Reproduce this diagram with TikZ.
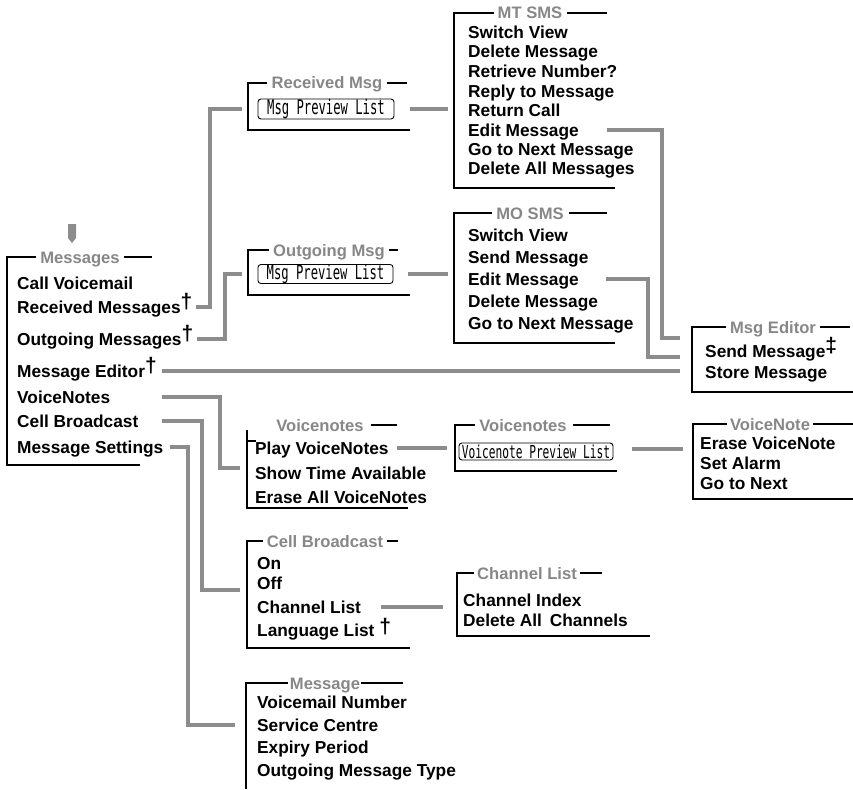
\documentclass[tikz,border=0pt]{standalone}
\usepackage{fontspec}
\setmainfont{Liberation Sans}
\newfontfamily\lcdfont{DejaVu Sans Mono}
\definecolor{linkgray}{RGB}{140,140,140}
\definecolor{titlegray}{RGB}{135,135,135}
\newcommand{\upmark}{\raisebox{5pt}{\fontsize{21}{21}\selectfont †}}
\newcommand{\upmarkk}{\raisebox{5pt}{\fontsize{21}{21}\selectfont ‡}}

\begin{document}
\begin{tikzpicture}[x=1pt, y=-1pt,
  menuitem/.style={anchor=west, inner sep=0pt, text height=12pt, text depth=0pt,
    font=\fontsize{17.3}{17.3}\selectfont\bfseries},
  menutitle/.style={menuitem, anchor=center, text=titlegray,
    font=\fontsize{16.6}{16.6}\selectfont\bfseries},
  boxline/.style={line width=1.2pt},
  link/.style={linkgray, line width=4pt},
  lcdbox/.style={draw, line width=0.9pt, rounded corners=3pt, inner sep=0pt}]
  \useasboundingbox (0,0) rectangle (853,789);

  % --- MESSAGES ---
  \fill[linkgray] (68,224) -- (76,224) -- (76,238) -- (72,243) -- (68,238) -- cycle;
  \node[menutitle] (tMsgs) at (80,257) {Messages};
  \node[menuitem] (mCall) at (17,283) {Call Voicemail};
  \node[menuitem] (mRecv) at (17,307) {Received Messages\upmark};
  \node[menuitem] (mOut)  at (17,339) {Outgoing Messages\upmark};
  \node[menuitem] (mEdit) at (17,371) {Message Editor\upmark};
  \node[menuitem] (mVN)   at (17,397) {VoiceNotes};
  \node[menuitem] (mCell) at (17,421) {Cell Broadcast};
  \node[menuitem] (mSet)  at (17,447) {Message Settings};
  \draw[boxline] ([xshift=-4pt]tMsgs.west) -| (7,465) -- (140,465);
  \draw[boxline] ([xshift=4pt]tMsgs.east) -- (tMsgs -| 152,0);

  % --- RECEIVED / OUTGOING ---
  \node[menutitle] (tRecv) at (327,83) {Received Msg};
  \node[lcdbox, minimum width=136pt, minimum height=20pt] (pRecv) at (326,109)
    {\lcdfont\fontsize{12.2}{12.2}\selectfont\scalebox{1}[1.65]{Msg Preview List}};
  \draw[boxline] ([xshift=-4pt]tRecv.west) -| (248,130) -- (410,130);
  \draw[boxline] ([xshift=4pt]tRecv.east) -- (tRecv -| 407,0);

  \node[menutitle] (tOut) at (329,250) {Outgoing Msg};
  \node[lcdbox, minimum width=135pt, minimum height=18pt] (pOut) at (325.5,274)
    {\lcdfont\fontsize{12.2}{12.2}\selectfont\scalebox{1}[1.6]{Msg Preview List}};
  \draw[boxline] ([xshift=-4pt]tOut.west) -| (248,295) -- (410,295);
  \draw[boxline] ([xshift=4pt]tOut.east) -- (tOut -| 398,0);

  % --- MT SMS ---
  \node[menutitle] (tMT) at (530,13) {MT SMS};
  \node[menuitem] (mtSwitch) at (468,33)  {Switch View};
  \node[menuitem] (mtDel)    at (468,52)  {Delete Message};
  \node[menuitem] (mtRetr)   at (468,72)  {Retrieve Number?};
  \node[menuitem] (mtReply)  at (468,92)  {Reply to Message};
  \node[menuitem] (mtCall)   at (468,111) {Return Call};
  \node[menuitem] (mtEdit)   at (468,130) {Edit Message};
  \node[menuitem] (mtNext)   at (468,149) {Go to Next Message};
  \node[menuitem] (mtDelAll) at (468,168) {Delete All Messages};
  \draw[boxline] ([xshift=-4pt]tMT.west) -| (454,188) -- (615,188);
  \draw[boxline] ([xshift=5pt]tMT.east) -- (tMT -| 607,0);

  % --- MO SMS ---
  \node[menutitle] (tMO) at (530,213) {MO SMS};
  \node[menuitem] (moSwitch) at (468,235) {Switch View};
  \node[menuitem] (moSend)   at (468,257) {Send Message};
  \node[menuitem] (moEdit)   at (468,279) {Edit Message};
  \node[menuitem] (moDel)    at (468,301) {Delete Message};
  \node[menuitem] (moNext)   at (468,323) {Go to Next Message};
  \draw[boxline] ([xshift=-4pt]tMO.west) -| (454,343) -- (615,343);
  \draw[boxline] ([xshift=5pt]tMO.east) -- (tMO -| 607,0);

  % --- MSG EDITOR ---
  \node[menutitle] (tEd) at (773,327) {Msg Editor};
  \node[menuitem] (edSend)  at (705,351) {Send Message\upmarkk};
  \node[menuitem] (edStore) at (705,372) {Store Message};
  \draw[boxline] ([xshift=-4pt]tEd.west) -| (692,392) -- (853,392);
  \draw[boxline] ([xshift=4pt]tEd.east) -- (tEd -| 850,0);

  % --- VOICENOTES ---
  \node[menutitle] (tVn) at (320,425) {Voicenotes};
  \node[menuitem] (vPlay)  at (255,448) {Play VoiceNotes};
  \node[menuitem] (vTime)  at (255,473) {Show Time Available};
  \node[menuitem] (vErase) at (255,497) {Erase All VoiceNotes};
  \draw[boxline] (247,430) -- (247,508) -- (408,508);
  \draw[boxline] (247,441) -- (256,441);
  \draw[boxline] ([xshift=7pt]tVn.east) -- (tVn -| 397,0);

  \node[menutitle] (tVn2) at (523,425) {Voicenotes};
  \node[lcdbox, minimum width=154pt, minimum height=17pt] (pVn) at (536,451.5)
    {\lcdfont\fontsize{11.2}{11.2}\selectfont\scalebox{1}[1.6]{Voicenote Preview List}};
  \draw[boxline] ([xshift=-4pt]tVn2.west) -| (455,471) -- (617,471);
  \draw[boxline] ([xshift=6pt]tVn2.east) -- (tVn2 -| 610,0);

  \node[menutitle] (tNote) at (770,424) {VoiceNote};
  \node[menuitem] (nErase) at (700,443) {Erase VoiceNote};
  \node[menuitem] (nAlarm) at (700,463) {Set Alarm};
  \node[menuitem] (nNext)  at (700,483) {Go to Next};
  \draw[boxline] ([xshift=-3pt]tNote.west) -| (693,499) -- (853,499);
  \draw[boxline] ([xshift=3pt]tNote.east) -- (tNote -| 853,0);

  % --- CELL BROADCAST ---
  \node[menutitle] (tCell) at (325,541) {Cell Broadcast};
  \node[menuitem] (cOn)   at (257,563) {On};
  \node[menuitem] (cOff)  at (257,583) {Off};
  \node[menuitem] (cChan) at (257,607) {Channel List};
  \node[menuitem] (cLang) at (257,630) {Language List~\raisebox{3pt}{\fontsize{21}{21}\selectfont †}};
  \draw[boxline] ([xshift=-4pt]tCell.west) -| (247,648) -- (410,648);
  \draw[boxline] ([xshift=4pt]tCell.east) -- (tCell -| 398,0);

  \node[menutitle] (tChan) at (527,573) {Channel List};
  \node[menuitem] (chIdx) at (463,600) {Channel Index};
  \node[menuitem] (chDel) at (463,620) {Delete All\hspace{3pt} Channels};
  \draw[boxline] ([xshift=-3pt]tChan.west) -| (457,636) -- (650,636);
  \draw[boxline] ([xshift=3pt]tChan.east) -- (tChan -| 602,0);

  % --- MESSAGE SETTINGS ---
  \node[menutitle] (tSet) at (325,683) {Message};
  \node[menuitem] (sVm)   at (257,702) {Voicemail Number};
  \node[menuitem] (sCtr)  at (257,725) {Service Centre};
  \node[menuitem] (sExp)  at (257,747) {Expiry Period};
  \node[menuitem] (sType) at (257,770) {Outgoing Message Type};
  \draw[boxline] ([xshift=-2pt]tSet.west) -| (246,789);
  \draw[boxline] ([xshift=1pt]tSet.east) -- (tSet -| 403,0);

  % connectors
  \coordinate (edA) at (680,338);
  \coordinate (edB) at (680,357);
  \coordinate (vnIn) at (240,468);
  \coordinate (cbIn) at (240,590);
  \coordinate (setIn) at (235,725);
  \coordinate (mtIn) at (448,107);
  \coordinate (moIn) at (448,273);
  \coordinate (noteIn) at (683,449);

  \draw[link] ([xshift=3pt]mRecv.east) -| (210,0 |- pRecv) -- ([xshift=-16pt]pRecv.west);
  \draw[link] ([xshift=4pt]mOut.east) -| (225,0 |- pOut) -- ([xshift=-16pt]pOut.west);
  \draw[link] (162,0 |- mEdit) -- (mEdit -| edA);
  \draw[link] (162,0 |- mVN) -| (220,0 |- vnIn) -- (vnIn);
  \draw[link] (162,0 |- mCell) -| (202,0 |- cbIn) -- (cbIn);
  \draw[link] (170,0 |- mSet) -| (188,0 |- setIn) -- (setIn);

  \draw[link] ([xshift=16pt]pRecv.east) -- (pRecv -| mtIn);
  \draw[link] ([xshift=15pt]pOut.east) -- (pOut -| moIn);
  \draw[link] ([xshift=28pt]mtEdit.east) -| (662,0 |- edA) -- (edA);
  \draw[link] ([xshift=27pt]moEdit.east) -| (648,0 |- edB) -- (edB);

  \draw[link] ([xshift=8pt]vPlay.east) -- ([xshift=-12pt]pVn.west |- vPlay);
  \draw[link] ([xshift=19pt]pVn.east |- noteIn) -- (noteIn);
  \draw[link] ([xshift=20pt]cChan.east) -- ([xshift=-20pt]chIdx.west |- cChan);
\end{tikzpicture}
\end{document}
